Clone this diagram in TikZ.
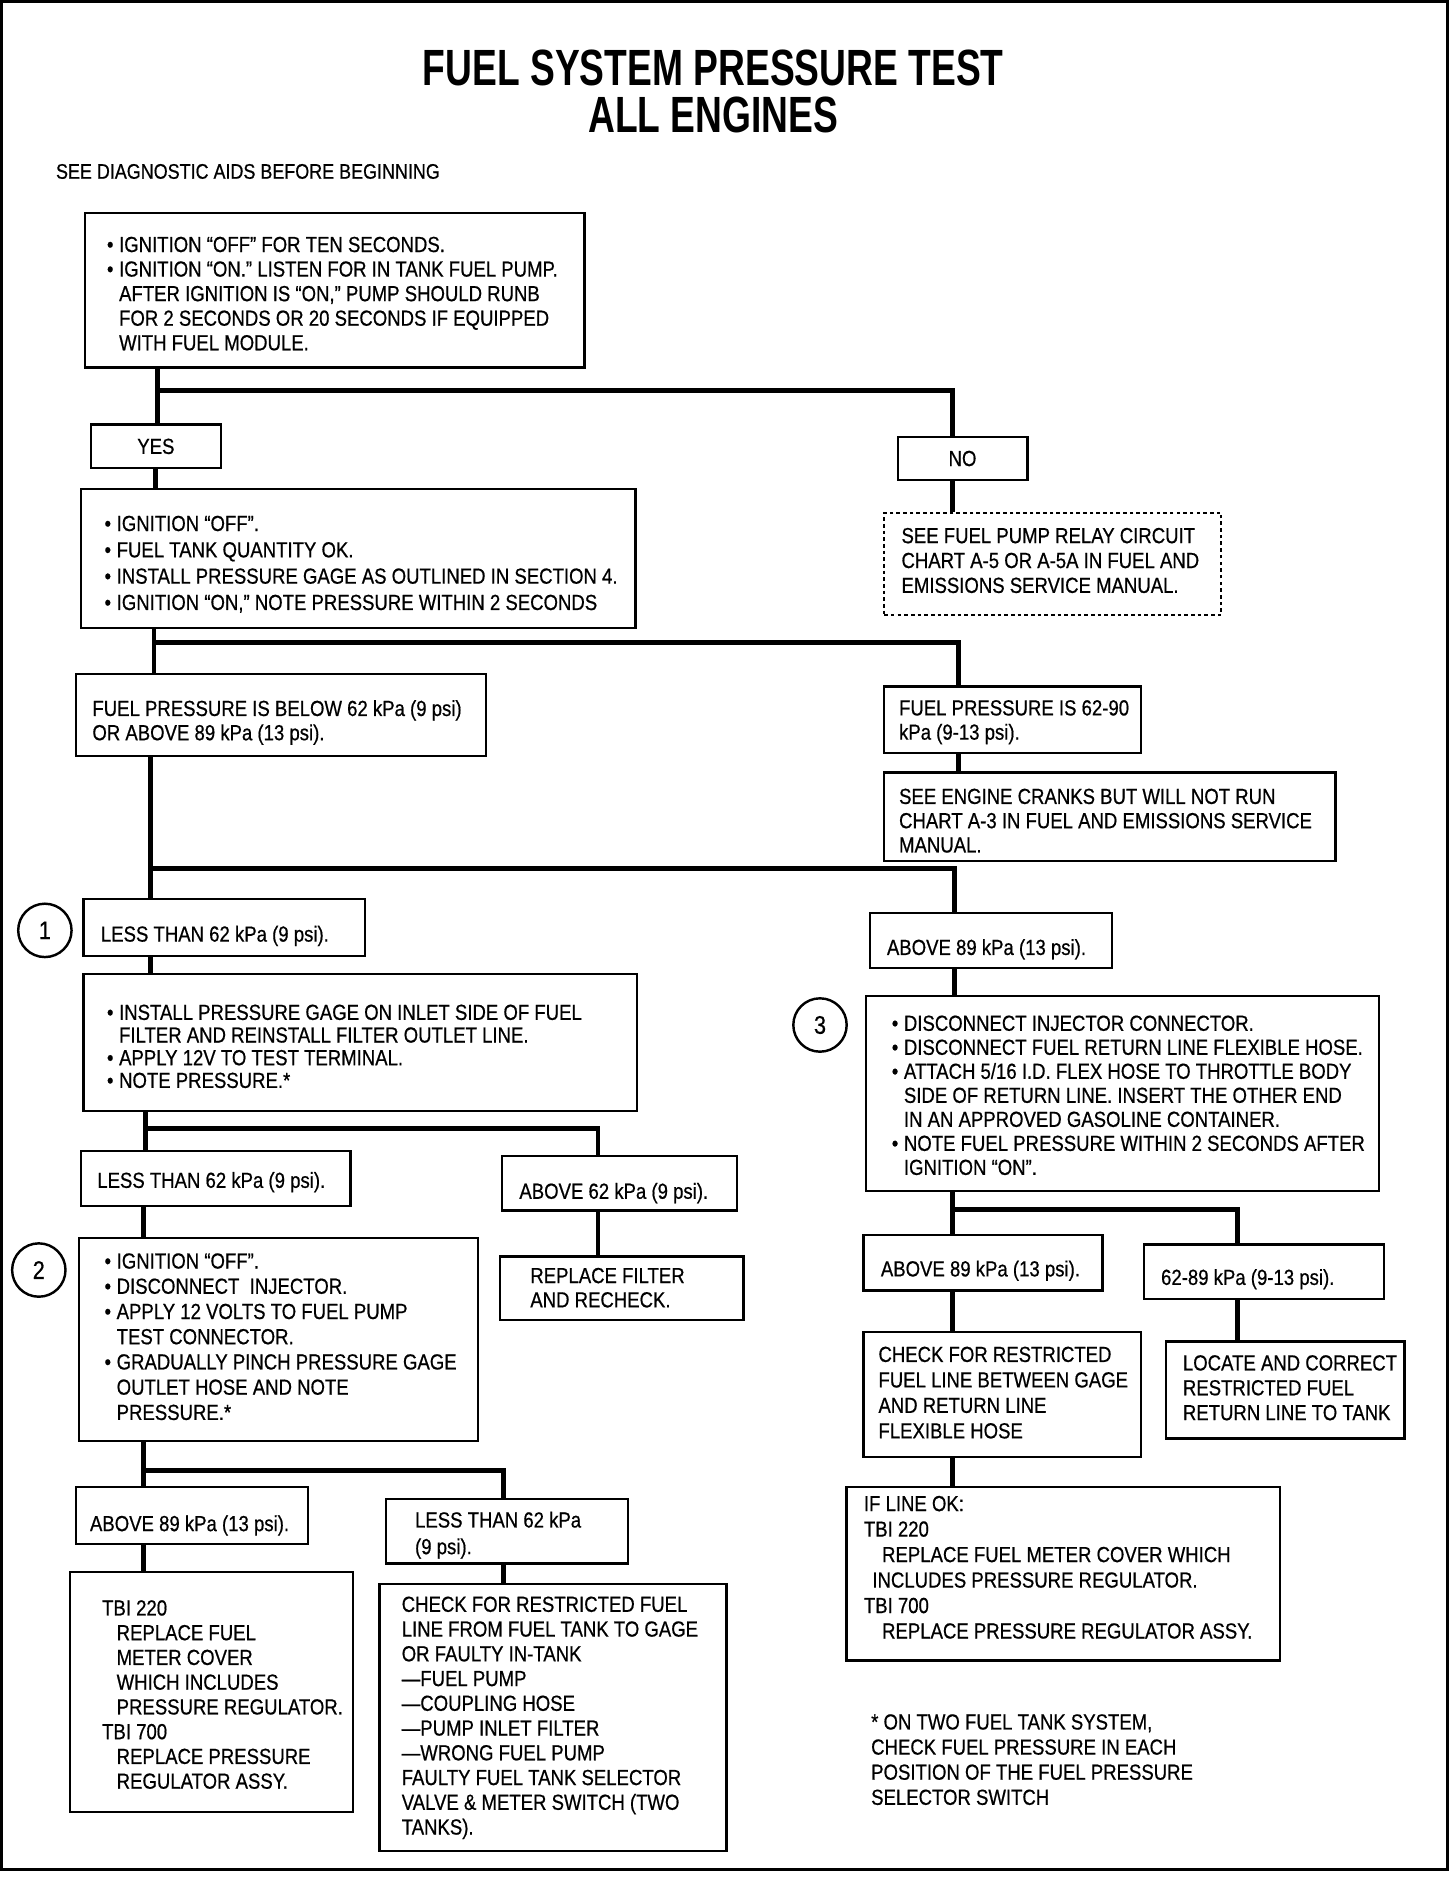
\documentclass[tikz,border=0pt]{standalone}
\usepackage{fontspec}
\setmainfont{Liberation Sans}[FakeStretch=0.85, FakeBold=0.6]
\newfontfamily\titlefont{Liberation Sans}[FakeStretch=0.73]
\usetikzlibrary{calc}
\newcommand\bul{\makebox[10pt][l]{•}}
\newcommand\ind{\hspace*{10pt}}
\tikzset{
  box/.style={draw, line width=1.8pt, rectangle, inner sep=0pt, anchor=north west},
  dbox/.style={box, dash pattern=on 3pt off 2.5pt},
  txt/.style={anchor=north west, inner sep=0pt, align=left, font=\fontsize{18}{#1}\selectfont},
  txt/.default=20.5,
  conn/.style={line width=4pt, line join=miter},
  circ/.style={draw, circle, line width=2pt, minimum size=44pt, inner sep=0pt, font=\fontsize{21}{21}\selectfont},
  ttl/.style={inner sep=0pt, font=\titlefont\bfseries\fontsize{42}{42}\selectfont}
}
\begin{document}
\begin{tikzpicture}[x=1pt,y=-1pt]
\useasboundingbox (0,0) rectangle (1200,1568);
\draw[line width=2.5pt] (1.5,1.5) rectangle (1193,1541);

% titles
\node[ttl] (t1) at (588,56) {FUEL SYSTEM PRESSURE TEST};
\node[ttl] (t2) at (588,95) {ALL ENGINES};
\node[txt, font=\fontsize{17.4}{20}\selectfont] (sd) at (46,135) {SEE DIAGNOSTIC AIDS BEFORE BEGINNING};

% boxes
\node[box, minimum width=412, minimum height=127] (b1) at (69,175) {};
\node[box, minimum width=107, minimum height=36, anchor=center, font=\fontsize{18}{20}\selectfont] (yes) at (128.5,368) {YES};
\node[box, minimum width=107, minimum height=36, anchor=center, font=\fontsize{18}{20}\selectfont] (no) at (793.5,378) {NO};
\node[dbox, minimum width=278, minimum height=84] (nob) at (728,422) {};
\node[box, minimum width=457, minimum height=115] (b2) at (66,402) {};
\node[box, minimum width=338, minimum height=67] (below) at (62,555) {};
\node[box, minimum width=212, minimum height=55] (p6290) at (728,565) {};
\node[box, minimum width=372, minimum height=73] (cranks) at (728,636) {};
\node[box, minimum width=232, minimum height=47] (less1) at (68,740) {};
\node[box, minimum width=200, minimum height=45] (above1) at (716,752) {};
\node[box, minimum width=456, minimum height=113] (install) at (68,802) {};
\node[box, minimum width=222, minimum height=45] (less2) at (66,948) {};
\node[box, minimum width=194, minimum height=45] (above62) at (413,952) {};
\node[box, minimum width=201, minimum height=52] (repl) at (411,1035) {};
\node[box, minimum width=329, minimum height=167] (ign2) at (64,1020) {};
\node[box, minimum width=191, minimum height=47] (above3) at (62,1225) {};
\node[box, minimum width=200, minimum height=53] (less3) at (317,1235) {};
\node[box, minimum width=233, minimum height=198] (tbi) at (57,1295) {};
\node[box, minimum width=286, minimum height=220] (chk) at (312,1305) {};
\node[box, minimum width=423, minimum height=161] (disc) at (713,820) {};
\node[box, minimum width=197, minimum height=46] (above2) at (711,1017) {};
\node[box, minimum width=198, minimum height=45] (p6289) at (942,1025) {};
\node[box, minimum width=229, minimum height=103] (chkr) at (711,1097) {};
\node[box, minimum width=197, minimum height=80] (loc) at (960,1105) {};
\node[box, minimum width=357, minimum height=143] (ifok) at (697,1225) {};

% circles
\node[circ] (c1) at (37,767) {1};
\node[circ] (c2) at (32,1047) {2};
\node[circ] (c3) at (676,845) {3};

% texts
\node[txt=20.25] (b1t) at (88,195) {\bul IGNITION “OFF” FOR TEN SECONDS.\\\bul IGNITION “ON.” LISTEN FOR IN TANK FUEL PUMP.\\\ind AFTER IGNITION IS “ON,” PUMP SHOULD RUNB\\\ind FOR 2 SECONDS OR 20 SECONDS IF EQUIPPED\\\ind WITH FUEL MODULE.};
\node[txt] (nobt) at (743,435) {SEE FUEL PUMP RELAY CIRCUIT\\CHART A-5 OR A-5A IN FUEL AND\\EMISSIONS SERVICE MANUAL.};
\node[txt=21.7] (b2t) at (86,425) {\bul IGNITION “OFF”.\\\bul FUEL TANK QUANTITY OK.\\\bul INSTALL PRESSURE GAGE AS OUTLINED IN SECTION 4.\\\bul IGNITION “ON,” NOTE PRESSURE WITHIN 2 SECONDS};
\node[txt=20] (belowt) at (76,577) {FUEL PRESSURE IS BELOW 62 kPa (9 psi)\\OR ABOVE 89 kPa (13 psi).};
\node[txt=20] (p6290t) at (741,577) {FUEL PRESSURE IS 62-90\\kPa (9-13 psi).};
\node[txt=20] (crankst) at (741,650) {SEE ENGINE CRANKS BUT WILL NOT RUN\\CHART A-3 IN FUEL AND EMISSIONS SERVICE\\MANUAL.};
\node[txt] (less1t) at (83,763) {LESS THAN 62 kPa (9 psi).};
\node[txt] (above1t) at (731,774) {ABOVE 89 kPa (13 psi).};
\node[txt=18.7] (installt) at (88,828) {\bul INSTALL PRESSURE GAGE ON INLET SIDE OF FUEL\\\ind FILTER AND REINSTALL FILTER OUTLET LINE.\\\bul APPLY 12V TO TEST TERMINAL.\\\bul NOTE PRESSURE.*};
\node[txt] (less2t) at (80,966) {LESS THAN 62 kPa (9 psi).};
\node[txt] (above62t) at (428,975) {ABOVE 62 kPa (9 psi).};
\node[txt=20] (replt) at (437,1045) {REPLACE FILTER\\AND RECHECK.};
\node[txt=20.8] (ign2t) at (86,1033) {\bul IGNITION “OFF”.\\\bul DISCONNECT\ \ INJECTOR.\\\bul APPLY 12 VOLTS TO FUEL PUMP\\\ind TEST CONNECTOR.\\\bul GRADUALLY PINCH PRESSURE GAGE\\\ind OUTLET HOSE AND NOTE\\\ind PRESSURE.*};
\node[txt] (above3t) at (74,1249) {ABOVE 89 kPa (13 psi).};
\node[txt=22] (less3t) at (342,1246) {LESS THAN 62 kPa\\(9 psi).};
\node[txt=20.4] (tbit) at (84,1319) {TBI 220\\\hspace*{12pt}REPLACE FUEL\\\hspace*{12pt}METER COVER\\\hspace*{12pt}WHICH INCLUDES\\\hspace*{12pt}PRESSURE REGULATOR.\\TBI 700\\\hspace*{12pt}REPLACE PRESSURE\\\hspace*{12pt}REGULATOR ASSY.};
\node[txt=20.4] (chkt) at (331,1316) {CHECK FOR RESTRICTED FUEL\\LINE FROM FUEL TANK TO GAGE\\OR FAULTY IN-TANK\\—FUEL PUMP\\—COUPLING HOSE\\—PUMP INLET FILTER\\—WRONG FUEL PUMP\\FAULTY FUEL TANK SELECTOR\\VALVE \& METER SWITCH (TWO\\TANKS).};
\node[txt=19.8] (disct) at (735,837) {\bul DISCONNECT INJECTOR CONNECTOR.\\\bul DISCONNECT FUEL RETURN LINE FLEXIBLE HOSE.\\\bul ATTACH 5/16 I.D. FLEX HOSE TO THROTTLE BODY\\\ind SIDE OF RETURN LINE. INSERT THE OTHER END\\\ind IN AN APPROVED GASOLINE CONTAINER.\\\bul NOTE FUEL PRESSURE WITHIN 2 SECONDS AFTER\\\ind IGNITION “ON”.};
\node[txt] (above2t) at (726,1039) {ABOVE 89 kPa (13 psi).};
\node[txt] (p6289t) at (957,1046) {62-89 kPa (9-13 psi).};
\node[txt=21] (chkrt) at (724,1110) {CHECK FOR RESTRICTED\\FUEL LINE BETWEEN GAGE\\AND RETURN LINE\\FLEXIBLE HOSE};
\node[txt] (loct) at (975,1117) {LOCATE AND CORRECT\\RESTRICTED FUEL\\RETURN LINE TO TANK};
\node[txt=21] (ifokt) at (712,1233) {IF LINE OK:\\TBI 220\\\hspace*{15pt}REPLACE FUEL METER COVER WHICH\\\hspace*{7pt}INCLUDES PRESSURE REGULATOR.\\TBI 700\\\hspace*{15pt}REPLACE PRESSURE REGULATOR ASSY.};
\node[txt=20.7] (foot) at (718,1413) {* ON TWO FUEL TANK SYSTEM,\\CHECK FUEL PRESSURE IN EACH\\POSITION OF THE FUEL PRESSURE\\SELECTOR SWITCH};

% junctions
\coordinate (j1) at (130,322);  \coordinate (j1r) at (785,322);
\coordinate (j2) at (127,530);  \coordinate (j2r) at (790,530);
\coordinate (j3) at (124,716);  \coordinate (j3r) at (787,716);
\coordinate (j4) at (120,930);  \coordinate (j4r) at (493,930);
\coordinate (j5) at (118,1212); \coordinate (j5r) at (415,1212);
\coordinate (j6) at (785,997);  \coordinate (j6r) at (1020,997);

% connectors
\draw[conn] (b1.south -| j1) -- (j1) -- (j1r) -- (no.north -| j1r);
\draw[conn] (j1) -- (yes.north -| j1);
\draw[conn] (no.south -| j1r) -- (nob.north -| j1r);
\draw[conn] (yes.south -| 128,0) -- (b2.north -| 128,0);
\draw[conn] (b2.south -| j2) -- (j2) -- (j2r) -- (p6290.north -| j2r);
\draw[conn] (j2) -- (below.north -| j2);
\draw[conn] (p6290.south -| j2r) -- (cranks.north -| j2r);
\draw[conn] (below.south -| j3) -- (j3) -- (j3r) -- (above1.north -| j3r);
\draw[conn] (j3) -- (less1.north -| j3);
\draw[conn] (less1.south -| j3) -- (install.north -| j3);
\draw[conn] (install.south -| j4) -- (j4) -- (j4r) -- (above62.north -| j4r);
\draw[conn] (j4) -- (less2.north -| j4);
\draw[conn] (above62.south -| j4r) -- (repl.north -| j4r);
\draw[conn] (less2.south -| j5) -- (ign2.north -| j5);
\draw[conn] (ign2.south -| j5) -- (j5) -- (j5r) -- (less3.north -| j5r);
\draw[conn] (j5) -- (above3.north -| j5);
\draw[conn] (above3.south -| j5) -- (tbi.north -| j5);
\draw[conn] (less3.south -| j5r) -- (chk.north -| j5r);
\draw[conn] (above1.south -| j3r) -- (disc.north -| j3r);
\draw[conn] (disc.south -| j6) -- (j6) -- (j6r) -- (p6289.north -| j6r);
\draw[conn] (j6) -- (above2.north -| j6);
\draw[conn] (above2.south -| j6) -- (chkr.north -| j6);
\draw[conn] (p6289.south -| j6r) -- (loc.north -| j6r);
\draw[conn] (chkr.south -| j6) -- (ifok.north -| j6);
\end{tikzpicture}
\end{document}
